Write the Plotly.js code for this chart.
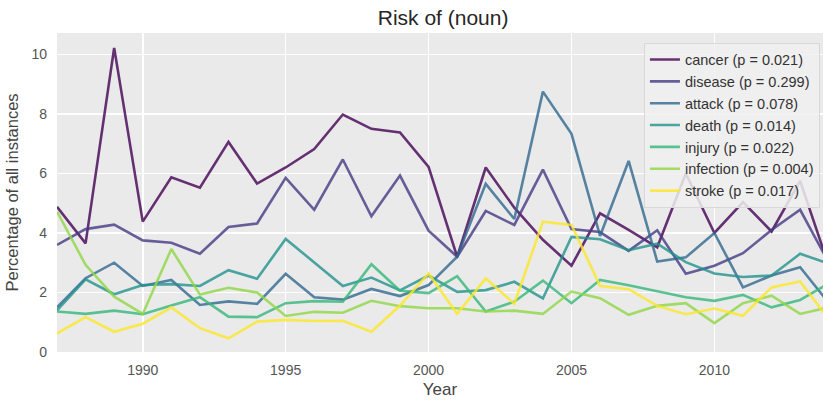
<!DOCTYPE html>
<html>
<head>
<meta charset="utf-8">
<script src="https://cdn.plot.ly/plotly-3.0.1.min.js"></script>
<style>
  html, body { margin: 0; padding: 0; background: #ffffff; }
  #chart { width: 823px; height: 401px; }
</style>
</head>
<body>
<div id="chart"></div>
<script>
// Years covered by the corpus counts
const years = [1987, 1988, 1989, 1990, 1991, 1992, 1993, 1994, 1995, 1996,
               1997, 1998, 1999, 2000, 2001, 2002, 2003, 2004, 2005, 2006,
               2007, 2008, 2009, 2010, 2011, 2012, 2013, 2014];

// Nouns following "risk of", with the trend p-value for each
const nouns   = ["cancer", "disease", "attack", "death", "injury", "infection", "stroke"];
const pValues = ["0.021", "0.299", "0.078", "0.014", "0.022", "0.004", "0.017"];

// Percentage of all "risk of" instances, per year
const cancer    = [4.88, 3.65, 10.22, 4.38, 5.87, 5.52, 7.06, 5.66, 6.20, 6.82,
                   7.98, 7.50, 7.38, 6.22, 3.20, 6.20, 4.85, 3.77, 2.90, 4.66,
                   4.10, 3.52, 6.00, 4.00, 5.04, 4.05, 5.75, 2.90];
const disease   = [3.60, 4.13, 4.28, 3.75, 3.67, 3.30, 4.20, 4.32, 5.85, 4.78,
                   6.47, 4.56, 5.93, 4.08, 3.20, 4.74, 4.27, 6.13, 4.13, 4.03,
                   3.40, 4.09, 2.63, 2.90, 3.32, 4.10, 4.78, 3.00];
const attack    = [1.50, 2.48, 3.00, 2.22, 2.42, 1.58, 1.70, 1.62, 2.63, 1.84,
                   1.76, 2.12, 1.88, 2.25, 3.20, 5.65, 4.47, 8.75, 7.33, 3.90,
                   6.42, 3.04, 3.18, 4.00, 2.17, 2.57, 2.85, 1.65];
const death     = [1.40, 2.44, 1.94, 2.25, 2.28, 2.22, 2.75, 2.46, 3.80, 3.02,
                   2.22, 2.50, 2.07, 2.57, 2.02, 2.08, 2.36, 1.80, 3.87, 3.79,
                   3.42, 3.64, 3.02, 2.64, 2.52, 2.57, 3.30, 2.97];
const injury    = [1.36, 1.28, 1.39, 1.27, 1.56, 1.84, 1.19, 1.17, 1.64, 1.71,
                   1.69, 2.95, 2.06, 1.98, 2.55, 1.36, 1.69, 2.40, 1.64, 2.42,
                   2.24, 2.03, 1.84, 1.72, 1.92, 1.50, 1.75, 2.30];
const infection = [4.72, 2.93, 1.86, 1.28, 3.46, 1.93, 2.16, 2.00, 1.21, 1.35,
                   1.32, 1.72, 1.54, 1.47, 1.47, 1.36, 1.39, 1.28, 2.03, 1.81,
                   1.25, 1.55, 1.64, 0.97, 1.64, 1.89, 1.28, 1.50];
const stroke    = [0.63, 1.17, 0.68, 0.95, 1.50, 0.80, 0.46, 1.02, 1.08, 1.04,
                   1.05, 0.68, 1.56, 2.64, 1.28, 2.47, 1.62, 4.38, 4.27, 2.22,
                   2.11, 1.55, 1.27, 1.46, 1.22, 2.17, 2.37, 1.10];

const series = [cancer, disease, attack, death, injury, infection, stroke];

// Seven evenly spaced viridis colours
const palette = ["#440154", "#443983", "#31688e", "#21918c", "#35b779", "#8fd744", "#fde725"];

const traces = nouns.map((noun, i) => ({
  type: "scatter",
  mode: "lines",
  x: years,
  y: series[i],
  name: noun + " (p = " + pValues[i] + ")",
  line: { color: palette[i], width: 2.6 },
  opacity: 0.8,
  hoverinfo: "skip"
}));

const baseFont = "'Liberation Sans', Arial, sans-serif";

const layout = {
  width: 823,
  height: 401,
  margin: { l: 57, r: 0, t: 33, b: 49 },
  paper_bgcolor: "#ffffff",
  plot_bgcolor: "#eaeaea",
  font: { family: baseFont, size: 14, color: "#555555" },
  title: {
    text: "Risk of (noun)",
    font: { family: baseFont, size: 21, color: "#262626" },
    x: 0.5384, xanchor: "center",
    y: 0.957, yanchor: "middle"
  },
  xaxis: {
    range: [1987, 2013.8],
    tickvals: [1990, 1995, 2000, 2005, 2010],
    ticktext: ["1990", "1995", "2000", "2005", "2010"],
    showgrid: true,
    gridcolor: "#ffffff",
    gridwidth: 1.6,
    zeroline: false,
    showline: false,
    ticks: "",
    ticklabelstandoff: 8,
    tickfont: { family: baseFont, size: 14, color: "#555555" },
    title: {
      text: "Year",
      font: { family: baseFont, size: 17, color: "#444444" },
      standoff: 6
    }
  },
  yaxis: {
    range: [0, 10.72],
    tickvals: [0, 2, 4, 6, 8, 10],
    showgrid: true,
    gridcolor: "#ffffff",
    gridwidth: 1.6,
    zeroline: false,
    showline: false,
    ticks: "",
    ticklabelstandoff: 9,
    tickfont: { family: baseFont, size: 14, color: "#555555" },
    title: {
      text: "Percentage of all instances",
      font: { family: baseFont, size: 16.5, color: "#444444" },
      standoff: 8
    }
  },
  legend: {
    x: 0.996, xanchor: "right",
    y: 0.97, yanchor: "top",
    bgcolor: "rgba(240,240,240,0.85)",
    bordercolor: "#d8d8d8",
    borderwidth: 1,
    font: { family: baseFont, size: 14.5, color: "#333333" },
    itemwidth: 30,
    tracegroupgap: 0
  },
  showlegend: true
};

Plotly.newPlot("chart", traces, layout, { staticPlot: true, displayModeBar: false });
</script>
</body>
</html>
